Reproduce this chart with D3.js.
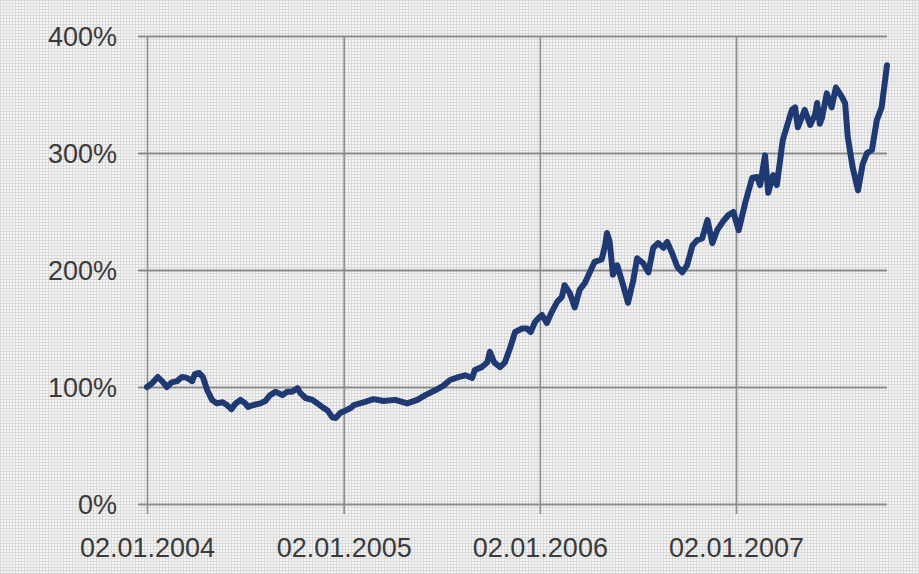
<!DOCTYPE html>
<html>
<head>
<meta charset="utf-8">
<script src="https://cdn.jsdelivr.net/npm/d3@7/dist/d3.min.js"></script>
<style>
  html, body { margin: 0; padding: 0; background: #ffffff; }
  svg { display: block; }
</style>
</head>
<body>
<svg id="chart" width="919" height="574"></svg>
<script>
// ---- data ----
const dates = [
  "2004-01-02","2004-01-11","2004-01-22","2004-01-30","2004-02-08","2004-02-17","2004-02-27","2004-03-07",
  "2004-03-16","2004-03-26","2004-03-31","2004-04-08","2004-04-15","2004-04-23","2004-05-02","2004-05-11",
  "2004-05-21","2004-05-30","2004-06-07","2004-06-14","2004-06-24","2004-07-03","2004-07-08","2004-07-18",
  "2004-07-31","2004-08-09","2004-08-18","2004-08-28","2004-09-10","2004-09-19","2004-09-28","2004-10-08",
  "2004-10-13","2004-10-23","2004-11-05","2004-11-14","2004-11-23","2004-12-03","2004-12-12","2004-12-18",
  "2004-12-27","2005-01-06","2005-01-15","2005-01-21","2005-02-09","2005-02-27","2005-03-17","2005-04-08",
  "2005-04-30","2005-05-19","2005-06-03","2005-06-22","2005-07-06","2005-07-19","2005-08-03","2005-08-16",
  "2005-08-29","2005-09-03","2005-09-16","2005-09-26","2005-10-01","2005-10-09","2005-10-20","2005-10-29",
  "2005-11-08","2005-11-17","2005-11-30","2005-12-09","2005-12-16","2005-12-24","2006-01-02","2006-01-06",
  "2006-01-15","2006-01-24","2006-02-03","2006-02-12","2006-02-17","2006-02-27","2006-03-08","2006-03-17",
  "2006-03-27","2006-04-05","2006-04-14","2006-04-27","2006-05-03","2006-05-07","2006-05-12","2006-05-18",
  "2006-05-26","2006-06-06","2006-06-15","2006-06-25","2006-07-02","2006-07-13","2006-07-23","2006-08-01",
  "2006-08-10","2006-08-20","2006-08-27","2006-09-05","2006-09-15","2006-09-24","2006-10-03","2006-10-13",
  "2006-10-22","2006-10-31","2006-11-10","2006-11-19","2006-11-28","2006-12-08","2006-12-19","2006-12-28",
  "2007-01-07","2007-01-19","2007-02-01","2007-02-10","2007-02-16","2007-02-25","2007-03-03","2007-03-12",
  "2007-03-19","2007-03-30","2007-04-16","2007-04-22","2007-04-27","2007-05-10","2007-05-20","2007-05-29",
  "2007-06-02","2007-06-07","2007-06-11","2007-06-20","2007-06-29","2007-07-07","2007-07-18","2007-07-24",
  "2007-07-29","2007-08-07","2007-08-17","2007-08-26","2007-09-03","2007-09-12","2007-09-21","2007-09-30",
  "2007-10-10"
];
const values = [
  100, 103, 108.5, 105, 100, 104, 105, 108.5,
  108, 105, 111, 112, 108.5, 97.4, 89, 86,
  87, 84.6, 81, 85.5, 89, 86, 83, 84.6,
  86, 88, 93, 96, 93, 96, 96, 99,
  95, 90.6, 89, 86, 83, 80, 74, 73.5,
  78, 80, 82, 84.6, 87, 89.6, 88, 89,
  86, 89, 93, 97.4, 101, 106, 108.5, 110,
  107.7, 114.5, 117, 121, 130, 121, 117, 121,
  134, 147, 150, 150, 147, 155.6, 160, 161.5,
  154.7, 164, 172.6, 177, 187, 180, 168, 183,
  189, 198, 207, 209, 220, 231.6, 224, 196,
  204, 187, 172, 191.5, 210, 206, 198, 219,
  223, 219, 224, 214.5, 202.6, 198, 204, 221,
  225.6, 227, 242.7, 223, 234, 241, 247, 249.6,
  234, 257, 278.6, 279.5, 272.6, 298, 266, 281,
  272.6, 311, 336.8, 339, 322, 336.8, 324, 332.5,
  342.7, 325, 330, 351, 339, 356, 348, 342.7,
  313.7, 288, 268, 291, 300, 302.6, 328, 339,
  375
];
const xTickDates = ["2004-01-02","2005-01-02","2006-01-02","2007-01-02"];
const xTickLabels = ["02.01.2004","02.01.2005","02.01.2006","02.01.2007"];
const yTicks = [0, 100, 200, 300, 400];
const yTickLabels = ["0%","100%","200%","300%","400%"];

// ---- layout ----
const W = 919, H = 574;
const margin = { left: 147, right: 32, top: 36, bottom: 70 };
const parse = d3.timeParse("%Y-%m-%d");
const data = dates.map((d, i) => ({ date: parse(d), value: values[i] }));

const svg = d3.select("#chart");

// background texture (fine gray lattice)
const defs = svg.append("defs");
const pat = defs.append("pattern").attr("id", "bgpat")
  .attr("width", 3).attr("height", 3).attr("patternUnits", "userSpaceOnUse");
pat.append("rect").attr("width", 3).attr("height", 3).attr("fill", "#f6f6f6");
pat.append("rect").attr("x", 0).attr("y", 0).attr("width", 3).attr("height", 1).attr("fill", "#dadada");
pat.append("rect").attr("x", 0).attr("y", 0).attr("width", 1).attr("height", 3).attr("fill", "#dadada");
svg.append("rect").attr("x", 0).attr("y", 0).attr("width", W).attr("height", H).attr("fill", "url(#bgpat)");

const x = d3.scaleTime()
  .domain([parse("2004-01-02"), parse("2007-10-10")])
  .range([margin.left, W - margin.right]);
const y = d3.scaleLinear()
  .domain([0, 400])
  .range([H - margin.bottom, margin.top]);

const gridColor = "#8c8c8c";
const textColor = "#3a3a3a";
const font = "'Liberation Sans', Arial, sans-serif";

// horizontal grid + y axis
const yAxis = d3.axisLeft(y)
  .tickValues(yTicks)
  .tickSize(-(W - margin.right - margin.left))
  .tickPadding(0)
  .tickFormat((d, i) => yTickLabels[i]);
const gy = svg.append("g").attr("transform", `translate(${margin.left},0)`).call(yAxis);
gy.select(".domain").remove();
gy.selectAll(".tick line").attr("stroke", gridColor).attr("stroke-width", 2).attr("x1", -9);
gy.selectAll(".tick text")
  .attr("x", -30)
  .attr("dy", "0.36em")
  .attr("fill", textColor)
  .style("font-family", font)
  .style("font-size", "27px");

// vertical grid + x axis
const xAxis = d3.axisBottom(x)
  .tickValues(xTickDates.map(parse))
  .tickSize(-(H - margin.bottom - margin.top))
  .tickFormat((d, i) => xTickLabels[i]);
const gx = svg.append("g").attr("transform", `translate(0,${H - margin.bottom})`).call(xAxis);
gx.select(".domain").remove();
gx.selectAll(".tick line").attr("stroke", gridColor).attr("stroke-width", 1.6).attr("y1", 10);
gx.selectAll(".tick text")
  .attr("y", 34)
  .attr("dy", "0.71em")
  .attr("fill", textColor)
  .style("font-family", font)
  .style("font-size", "27px");

// the series line
const line = d3.line()
  .x(d => x(d.date))
  .y(d => y(d.value))
  .curve(d3.curveLinear);

svg.append("path")
  .datum(data)
  .attr("fill", "none")
  .attr("stroke", "#1f3a72")
  .attr("stroke-width", 6)
  .attr("stroke-linejoin", "round")
  .attr("stroke-linecap", "round")
  .attr("d", line);
</script>
</body>
</html>
